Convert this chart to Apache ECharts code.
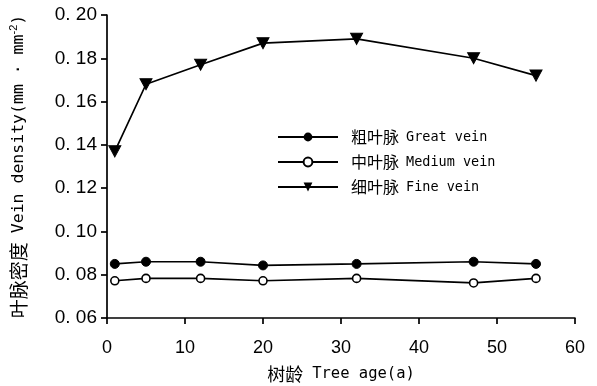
<!DOCTYPE html>
<html><head><meta charset="utf-8">
<script src="https://cdn.jsdelivr.net/npm/echarts@6/dist/echarts.min.js"></script>
<style>html,body{margin:0;padding:0;background:#fff}#c{width:597px;height:386px}</style>
</head><body><div id="c"></div>
<script>
const treeAge = [1, 5, 12, 20, 32, 47, 55];
const greatVein = [0.085, 0.086, 0.086, 0.0843, 0.085, 0.086, 0.085];
const mediumVein = [0.0772, 0.0783, 0.0783, 0.0772, 0.0783, 0.0762, 0.0783];
const fineVein = [0.137, 0.168, 0.177, 0.187, 0.189, 0.180, 0.172];
const seriesNames = ['粗叶脉 Great vein', '中叶脉 Medium vein', '细叶脉 Fine vein'];
const xTicks = [0, 10, 20, 30, 40, 50, 60];
const yTicks = [0.06, 0.08, 0.10, 0.12, 0.14, 0.16, 0.18, 0.20];

const MONO = "'DejaVu Sans Mono', monospace";
const CJK = "'Noto Sans CJK SC', sans-serif";
const SANS = "'Liberation Sans', Arial, sans-serif";
const pair = (xs, ys) => xs.map((x, i) => [x, ys[i]]);
const chart = echarts.init(document.getElementById('c'));
const base = {type: 'line', lineStyle: {color: '#000', width: 1.7}, itemStyle: {color: '#000', borderColor: '#000'}, emphasis: {disabled: true}, animation: false};
chart.setOption({
  animation: false,
  grid: {left: 107, right: 22, top: 15, bottom: 68, containLabel: false, outerBoundsMode: 'none'},
  legend: {
    orient: 'vertical', left: 272, top: 124, itemWidth: 60, itemHeight: 11, itemGap: 9,
    formatter: n => { const i = n.indexOf(' '); return '{c|' + n.slice(0, i) + '}{l|' + n.slice(i + 1) + '}'; },
    textStyle: {padding: [0, 0, 0, 8], rich: {
      c: {fontFamily: CJK, fontSize: 16, color: '#000', lineHeight: 18, padding: [0, 7, 0, 0]},
      l: {fontFamily: MONO, fontSize: 13.5, color: '#000', lineHeight: 18}
    }},
    data: seriesNames
  },
  xAxis: {
    type: 'value', min: xTicks[0], max: xTicks[xTicks.length - 1], interval: 10,
    name: '{c|树龄}{l|Tree age(a)}', nameLocation: 'middle', nameGap: 47,
    nameTextStyle: {rich: {c: {fontFamily: CJK, fontSize: 18, color: '#000', padding: [0, 9, 0, 0]}, l: {fontFamily: MONO, fontSize: 15.5, color: '#000'}}},
    axisLine: {onZero: false, lineStyle: {color: '#000', width: 1.7}},
    axisTick: {length: 6, lineStyle: {color: '#000', width: 1.7}},
    axisLabel: {fontFamily: SANS, fontSize: 18, color: '#000', margin: 21},
    splitLine: {show: false}
  },
  yAxis: {
    type: 'value', min: 0.06, max: 0.20, interval: 0.02,
    name: '{c|叶脉密度}{l|Vein density(mm · mm}{s|-2}{l|)}', nameLocation: 'middle', nameGap: 77,
    nameTextStyle: {rich: {
      c: {fontFamily: CJK, fontSize: 19, color: '#000', lineHeight: 22, padding: [0, 9, 0, 0]},
      l: {fontFamily: MONO, fontSize: 16.5, color: '#000', lineHeight: 22},
      s: {fontFamily: SANS, fontSize: 11, color: '#000', lineHeight: 12, verticalAlign: 'top'}
    }},
    axisLine: {show: true, lineStyle: {color: '#000', width: 1.7}},
    axisTick: {show: true, length: 6, lineStyle: {color: '#000', width: 1.7}},
    axisLabel: {fontFamily: SANS, fontSize: 19, color: '#000', margin: 10,
      formatter: v => v.toFixed(2).replace('.', '. ')},
    splitLine: {show: false}
  },
  series: [
    Object.assign({}, base, {name: seriesNames[0], data: pair(treeAge, greatVein), symbol: 'circle', symbolSize: 9}),
    Object.assign({}, base, {name: seriesNames[1], data: pair(treeAge, mediumVein), symbol: 'circle', symbolSize: 8, itemStyle: {color: '#fff', borderColor: '#000', borderWidth: 1.6}}),
    Object.assign({}, base, {name: seriesNames[2], data: pair(treeAge, fineVein), symbol: 'path://M0,0 L10,0 L5,9 Z', symbolSize: [12, 11], symbolKeepAspect: false})
  ]
});
</script></body></html>
